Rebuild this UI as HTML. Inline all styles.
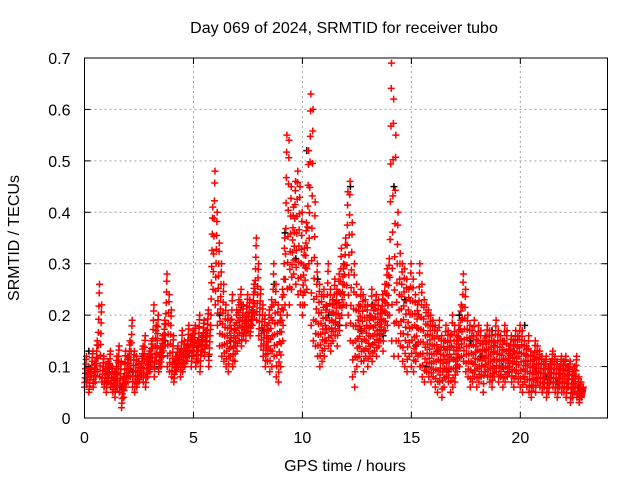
<!DOCTYPE html>
<html><head><meta charset="utf-8"><style>
body{margin:0;background:#fff}
svg{display:block;font-family:"Liberation Sans",sans-serif}
</style></head><body>
<svg id="c" width="640" height="480">
<rect width="640" height="480" fill="#fff"/>
<g id="grid"></g><g id="marks"></g><g id="axes"></g>
<text x="344" y="33" font-size="16" text-anchor="middle">Day 069 of 2024, SRMTID for receiver tubo</text>
<text x="345" y="471" font-size="16" text-anchor="middle">GPS time / hours</text>
<text transform="translate(19,238) rotate(-90)" font-size="16" text-anchor="middle">SRMTID / TECUs</text>
</svg>
<script>
const xTicks=[0,5,10,15,20];
const yTicks=[0,0.1,0.2,0.3,0.4,0.5,0.6,0.7];
const yTickLabels=["0","0.1","0.2","0.3","0.4","0.5","0.6","0.7"];
const stepHours=0.1;
const redHigh=[.12,.10,.09,.13,.11,.15,.26,.22,.12,.10,
.11,.13,.10,.09,.12,.14,.11,.08,.13,.12,
.15,.19,.13,.12,.11,.10,.14,.16,.12,.13,
.15,.22,.18,.20,.14,.16,.19,.28,.24,.21,
.16,.12,.14,.13,.17,.15,.14,.18,.16,.17,
.18,.15,.20,.16,.19,.17,.21,.18,.41,.48,
.40,.34,.30,.26,.22,.20,.19,.24,.18,.21,
.23,.25,.22,.20,.24,.23,.21,.26,.35,.30,
.25,.22,.20,.18,.21,.23,.30,.26,.22,.20,
.25,.35,.55,.54,.45,.41,.46,.48,.45,.40,
.33,.38,.52,.63,.60,.42,.30,.26,.24,.25,
.22,.30,.25,.23,.27,.25,.28,.33,.30,.35,
.44,.46,.38,.30,.26,.22,.25,.24,.23,.22,
.20,.25,.22,.24,.23,.21,.24,.26,.29,.31,
.69,.62,.55,.40,.32,.30,.29,.27,.25,.30,
.27,.24,.22,.30,.26,.23,.22,.21,.20,.19,
.18,.17,.19,.16,.15,.18,.17,.16,.20,.18,
.16,.18,.22,.28,.25,.20,.18,.17,.19,.16,
.18,.17,.15,.16,.18,.17,.16,.15,.19,.17,
.16,.15,.18,.17,.14,.16,.15,.17,.16,.18,
.17,.15,.14,.16,.13,.12,.15,.14,.13,.12,
.11,.12,.10,.11,.13,.12,.11,.10,.12,.11,
.12,.10,.11,.09,.10,.12,.08,.07,.06];
const redLow=[.06,.07,.05,.08,.06,.07,.09,.08,.07,.06,
.05,.07,.06,.05,.04,.06,.05,.02,.04,.06,
.07,.08,.06,.05,.06,.07,.08,.07,.06,.08,
.09,.10,.08,.11,.09,.10,.12,.14,.10,.09,
.08,.07,.09,.10,.08,.09,.10,.11,.12,.10,
.12,.10,.11,.09,.13,.12,.14,.10,.20,.25,
.22,.18,.14,.12,.11,.10,.09,.12,.10,.11,
.13,.15,.14,.16,.15,.17,.16,.18,.20,.19,
.16,.14,.12,.10,.11,.09,.10,.12,.08,.07,
.10,.15,.22,.20,.22,.25,.28,.26,.24,.22,
.20,.22,.25,.30,.18,.15,.14,.12,.10,.11,
.12,.15,.14,.13,.15,.16,.14,.17,.20,.22,
.18,.20,.15,.08,.06,.10,.12,.11,.09,.12,
.10,.12,.11,.13,.12,.14,.15,.13,.17,.18,
.20,.15,.12,.15,.12,.14,.11,.10,.09,.12,
.10,.09,.11,.12,.10,.08,.07,.09,.08,.07,
.08,.06,.05,.07,.04,.06,.08,.07,.05,.06,
.07,.09,.10,.12,.11,.09,.08,.06,.07,.08,
.06,.07,.08,.05,.09,.08,.07,.06,.08,.09,
.07,.08,.06,.07,.08,.09,.07,.06,.08,.07,
.06,.05,.07,.06,.05,.04,.06,.05,.07,.06,
.05,.06,.04,.05,.07,.06,.05,.04,.06,.05,
.05,.04,.06,.03,.04,.05,.04,.03,.04];
const blackStep=0.5;
const blackVals=[.13,.08,.10,.06,.09,.12,.10,.15,.11,.13,.14,.12,.20,.15,.22,.21,.17,.26,.36,.31,.52,.27,.20,.18,.45,.17,.22,.16,.45,.23,.14,.10,.13,.09,.20,.15,.12,.17,.10,.13,.18,.09,.08,.07,.10,.06];
const X0=84.5,X1=607.5,XMAX=24,Y0=418,Y1=58,YMAX=0.7;
const sx=v=>X0+(X1-X0)*v/XMAX, sy=v=>Y0-(Y0-Y1)*v/YMAX;
const NS="http://www.w3.org/2000/svg";
function mk(tag,parent,attrs){const e=document.createElementNS(NS,tag);for(const k in attrs)e.setAttribute(k,attrs[k]);parent.appendChild(e);return e;}
const grid=document.getElementById('grid'),axes=document.getElementById('axes'),marks=document.getElementById('marks');
xTicks.forEach(t=>{const x=sx(t);
 if(t>0){const g=mk('line',grid,{x1:x,x2:x,y1:Y0,y2:Y1,stroke:'#a0a0a0','stroke-dasharray':'2,3'});
 
 }
 const l=mk('text',axes,{x:x,y:Y0+25,'font-size':16,'text-anchor':'middle'});l.textContent=t;
 
 
 mk('line',axes,{x1:x,x2:x,y1:Y0,y2:Y0-6,stroke:'#000'});
 mk('line',axes,{x1:x,x2:x,y1:Y1,y2:Y1+6,stroke:'#000'});
});
yTicks.forEach((t,i)=>{const y=sy(t);
 if(t>0){const g=mk('line',grid,{x1:X0,x2:X1,y1:y,y2:y,stroke:'#a0a0a0','stroke-dasharray':'2,3'});
 
 }
 const l=mk('text',axes,{x:X0-14,y:y+6,'font-size':16,'text-anchor':'end'});l.textContent=yTickLabels[i];
 
 
 mk('line',axes,{x1:X0,x2:X0+6,y1:y,y2:y,stroke:'#000'});
 mk('line',axes,{x1:X1,x2:X1-6,y1:y,y2:y,stroke:'#000'});
});
const fr=mk('rect',axes,{x:X0,y:Y1,width:X1-X0,height:Y0-Y1,fill:'none',stroke:'#000'});


function plus(t,v,col,name){const x=sx(t),y=sy(v);
 const p=mk('path',marks,{d:`M${x-3.5},${y}H${x+3.5}M${x},${y-3.5}V${y+3.5}`,stroke:col,'stroke-width':1.5,fill:'none'});
 
 }
blackVals.forEach((v,i)=>plus(i*blackStep+0.2,v,'#000','black-point'));
const fr2=[0,0.15,0.3,0.45,0.6,0.75,0.9,1];
redHigh.forEach((v,i)=>{const t=i*stepHours,lo=redLow[i];
 fr2.forEach((f,k)=>plus(t+0.0125*k,lo+(v-lo)*f,'#f00','red-point'));
});
</script>
</body></html>
